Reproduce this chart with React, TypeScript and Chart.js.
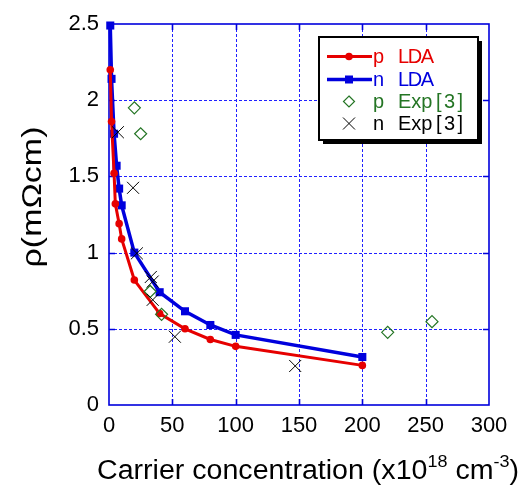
import React, { useEffect, useRef } from "react";
import { Chart, registerables } from "chart.js";
Chart.register(...registerables);

// ---- data (x in 10^18 cm^-3, y in mΩcm) ----
const pLdaX = [1, 2, 4, 5, 8, 10, 20, 40, 60, 80, 100, 200];
const pLdaY = [2.2, 1.86, 1.52, 1.32, 1.19, 1.09, 0.82, 0.6, 0.5, 0.43, 0.385, 0.26];
const nLdaX = [1, 2, 4, 6, 8, 10, 20, 40, 60, 80, 100, 200];
const nLdaY = [2.49, 2.14, 1.78, 1.57, 1.42, 1.31, 1.0, 0.74, 0.615, 0.525, 0.46, 0.315];
const pExpX = [20, 25, 32.5, 41.5, 220, 255];
const pExpY = [1.95, 1.78, 0.745, 0.595, 0.477, 0.547];
const nExpX = [7, 19, 22, 33, 34.5, 34.5, 52, 147];
const nExpY = [1.79, 1.425, 0.995, 0.84, 0.81, 0.69, 0.448, 0.256];

const xTicks = [0, 50, 100, 150, 200, 250, 300];
const yTicks = [0, 0.5, 1, 1.5, 2, 2.5];
const yTickLabels = ["0", "0.5", "1", "1.5", "2", "2.5"];
const legendCarriers = ["p", "n", "p", "n"];
const legendMethods = ["LDA", "LDA", "Exp", "Exp"];
const legendRefs = ["", "", "[3]", "[3]"];
const xTitleParts = ["Carrier concentration (x10", "18", " cm", "-3", ")"];
const yTitle = "ρ(mΩcm)";

const RED = "#e60000";
const BLUE = "#0000dd";
const GREEN = "#247524";
const FONT = "'Liberation Sans', Arial, sans-serif";

const pts = (xs: number[], ys: number[]) => xs.map((x, i) => ({ x, y: ys[i] }));

function drawSpaced(ctx: CanvasRenderingContext2D, text: string, x: number, y: number, targetW: number) {
  const chars = text.split("");
  const widths = chars.map((c) => ctx.measureText(c).width);
  const natural = widths.reduce((a, b) => a + b, 0);
  const extra = chars.length > 1 ? (targetW - natural) / (chars.length - 1) : 0;
  let cx = x;
  chars.forEach((c, i) => {
    ctx.fillText(c, cx, y);
    cx += widths[i] + extra;
  });
}

const framePlugin = {
  id: "frame",
  beforeDatasetsDraw(chart: any) {
    const { ctx, chartArea: a, scales } = chart;
    const xs = scales.x;
    const ys = scales.y;
    ctx.save();
    ctx.strokeStyle = "#2020ff";
    ctx.lineWidth = 1;
    ctx.setLineDash([3, 2]);
    ctx.beginPath();
    xTicks.slice(1, -1).forEach((v) => {
      const px = Math.round(xs.getPixelForValue(v)) + 0.5;
      ctx.moveTo(px, a.top);
      ctx.lineTo(px, a.bottom);
    });
    yTicks.slice(1, -1).forEach((v) => {
      const py = Math.round(ys.getPixelForValue(v)) + 0.5;
      ctx.moveTo(a.left, py);
      ctx.lineTo(a.right, py);
    });
    ctx.stroke();
    ctx.setLineDash([]);
    ctx.strokeStyle = BLUE;
    ctx.lineWidth = 1.6;
    ctx.strokeRect(a.left, a.top, a.right - a.left, a.bottom - a.top);
    ctx.beginPath();
    const tl = 6;
    xTicks.slice(1, -1).forEach((v) => {
      const px = Math.round(xs.getPixelForValue(v)) + 0.5;
      ctx.moveTo(px, a.top);
      ctx.lineTo(px, a.top + tl);
      ctx.moveTo(px, a.bottom);
      ctx.lineTo(px, a.bottom - tl);
    });
    yTicks.slice(1, -1).forEach((v) => {
      const py = Math.round(ys.getPixelForValue(v)) + 0.5;
      ctx.moveTo(a.left, py);
      ctx.lineTo(a.left + tl, py);
      ctx.moveTo(a.right, py);
      ctx.lineTo(a.right - tl, py);
    });
    ctx.stroke();
    ctx.restore();
  },
  afterDraw(chart: any) {
    const { ctx } = chart;
    ctx.save();
    // ---- legend ----
    const bx = 319, by = 37, bw = 159, bh = 103;
    ctx.fillStyle = "#000";
    ctx.fillRect(bx + 4, by + 4, bw, bh);
    ctx.fillStyle = "#fff";
    ctx.fillRect(bx, by, bw, bh);
    ctx.strokeStyle = "#000";
    ctx.lineWidth = 2;
    ctx.strokeRect(bx, by, bw, bh);

    const baselines = [63, 86, 108, 130];
    const colors = [RED, BLUE, GREEN, "#000"];
    const mx = 349;
    baselines.forEach((bl, i) => {
      const cy = bl - 6.5;
      ctx.strokeStyle = colors[i];
      ctx.fillStyle = colors[i];
      if (i === 0) {
        ctx.lineWidth = 3;
        ctx.beginPath();
        ctx.moveTo(327, cy);
        ctx.lineTo(372, cy);
        ctx.stroke();
        ctx.beginPath();
        ctx.arc(mx, cy, 3.8, 0, Math.PI * 2);
        ctx.fill();
      } else if (i === 1) {
        ctx.lineWidth = 3.5;
        ctx.beginPath();
        ctx.moveTo(327, cy);
        ctx.lineTo(372, cy);
        ctx.stroke();
        ctx.fillRect(mx - 4, cy - 4, 8, 8);
      } else if (i === 2) {
        ctx.lineWidth = 1.2;
        ctx.beginPath();
        ctx.moveTo(mx, cy - 5.5);
        ctx.lineTo(mx + 5.5, cy);
        ctx.lineTo(mx, cy + 5.5);
        ctx.lineTo(mx - 5.5, cy);
        ctx.closePath();
        ctx.stroke();
      } else {
        ctx.lineWidth = 1;
        ctx.beginPath();
        ctx.moveTo(mx - 6, cy - 6);
        ctx.lineTo(mx + 6, cy + 6);
        ctx.moveTo(mx + 6, cy - 6);
        ctx.lineTo(mx - 6, cy + 6);
        ctx.stroke();
      }
      ctx.font = `20px ${FONT}`;
      ctx.textAlign = "left";
      ctx.textBaseline = "alphabetic";
      ctx.fillText(legendCarriers[i], 373, bl);
      const m = legendMethods[i];
      if (m === "LDA") drawSpaced(ctx, m, 398, bl, 36);
      else ctx.fillText(m, 398, bl);
      if (legendRefs[i]) drawSpaced(ctx, legendRefs[i], 436, bl, 27);
    });

    // ---- x title ----
    ctx.fillStyle = "#000";
    ctx.textAlign = "left";
    ctx.textBaseline = "alphabetic";
    const sizes = [27, 17, 27, 17, 27];
    const widths = xTitleParts.map((t, i) => {
      ctx.font = `${sizes[i]}px ${FONT}`;
      return ctx.measureText(t).width;
    });
    const total = widths.reduce((a, b) => a + b, 0);
    const sx = 422 / total;
    ctx.save();
    ctx.translate(97, 479);
    ctx.scale(sx, 1);
    let cx = 0;
    xTitleParts.forEach((t, i) => {
      ctx.font = `${sizes[i]}px ${FONT}`;
      const dy = sizes[i] === 17 ? -12 : 0;
      ctx.fillText(t, cx, dy);
      cx += widths[i];
    });
    ctx.restore();

    // ---- y title ----
    ctx.save();
    ctx.font = `28px ${FONT}`;
    const yw = ctx.measureText(yTitle).width;
    ctx.translate(41, 197);
    ctx.rotate(-Math.PI / 2);
    ctx.scale(141 / yw, 1);
    ctx.textAlign = "center";
    ctx.fillText(yTitle, 0, 0);
    ctx.restore();

    ctx.restore();
  },
};

export default function App() {
  const ref = useRef<HTMLCanvasElement>(null);
  useEffect(() => {
    const chart = new Chart(ref.current!, {
      type: "scatter",
      data: {
        datasets: [
          {
            label: "n Exp[3]",
            data: pts(nExpX, nExpY),
            showLine: false,
            pointStyle: "crossRot",
            pointRadius: 8.5,
            borderColor: "#000",
            backgroundColor: "#000",
            pointBorderWidth: 1,
            clip: false,
          },
          {
            label: "p Exp[3]",
            data: pts(pExpX, pExpY),
            showLine: false,
            pointStyle: "rectRot",
            pointRadius: 6,
            borderColor: GREEN,
            backgroundColor: "rgba(0,0,0,0)",
            pointBorderWidth: 1.2,
            clip: false,
          },
          {
            label: "p LDA",
            data: pts(pLdaX, pLdaY),
            showLine: true,
            borderColor: RED,
            backgroundColor: RED,
            borderWidth: 3,
            pointStyle: "circle",
            pointRadius: 3.8,
            pointBorderWidth: 0,
            clip: false,
          },
          {
            label: "n LDA",
            data: pts(nLdaX, nLdaY),
            showLine: true,
            borderColor: BLUE,
            backgroundColor: BLUE,
            borderWidth: 3.5,
            pointStyle: "rect",
            pointRadius: 5.7,
            pointBorderWidth: 0,
            clip: false,
          },
        ],
      },
      options: {
        responsive: false,
        animation: false,
        devicePixelRatio: 1,
        layout: { padding: { top: 24, right: 34, left: 0, bottom: 0 } },
        plugins: { legend: { display: false }, tooltip: { enabled: false } },
        scales: {
          x: {
            type: "linear",
            min: 0,
            max: 300,
            afterBuildTicks: (s: any) => {
              s.ticks = xTicks.map((v) => ({ value: v }));
            },
            ticks: {
              autoSkip: false,
              maxRotation: 0,
              color: "#000",
              padding: 8,
              font: { family: FONT, size: 22 },
              callback: (v: any) => String(v),
            },
            grid: { display: false, drawTicks: false },
            border: { display: false },
            afterFit: (s: any) => {
              s.height = 81;
            },
          },
          y: {
            type: "linear",
            min: 0,
            max: 2.5,
            afterBuildTicks: (s: any) => {
              s.ticks = yTicks.map((v) => ({ value: v }));
            },
            ticks: {
              autoSkip: false,
              color: "#000",
              padding: 10,
              font: { family: FONT, size: 22 },
              callback: (_v: any, i: number) => yTickLabels[i],
            },
            grid: { display: false, drawTicks: false },
            border: { display: false },
            afterFit: (s: any) => {
              s.width = 109;
            },
          },
        },
      } as any,
      plugins: [framePlugin],
    });
    return () => chart.destroy();
  }, []);
  return (
    <div style={{ position: "fixed", left: 0, top: 0, width: 523, height: 486, background: "#fff" }}>
      <canvas ref={ref} width={523} height={486} style={{ display: "block" }} />
    </div>
  );
}
